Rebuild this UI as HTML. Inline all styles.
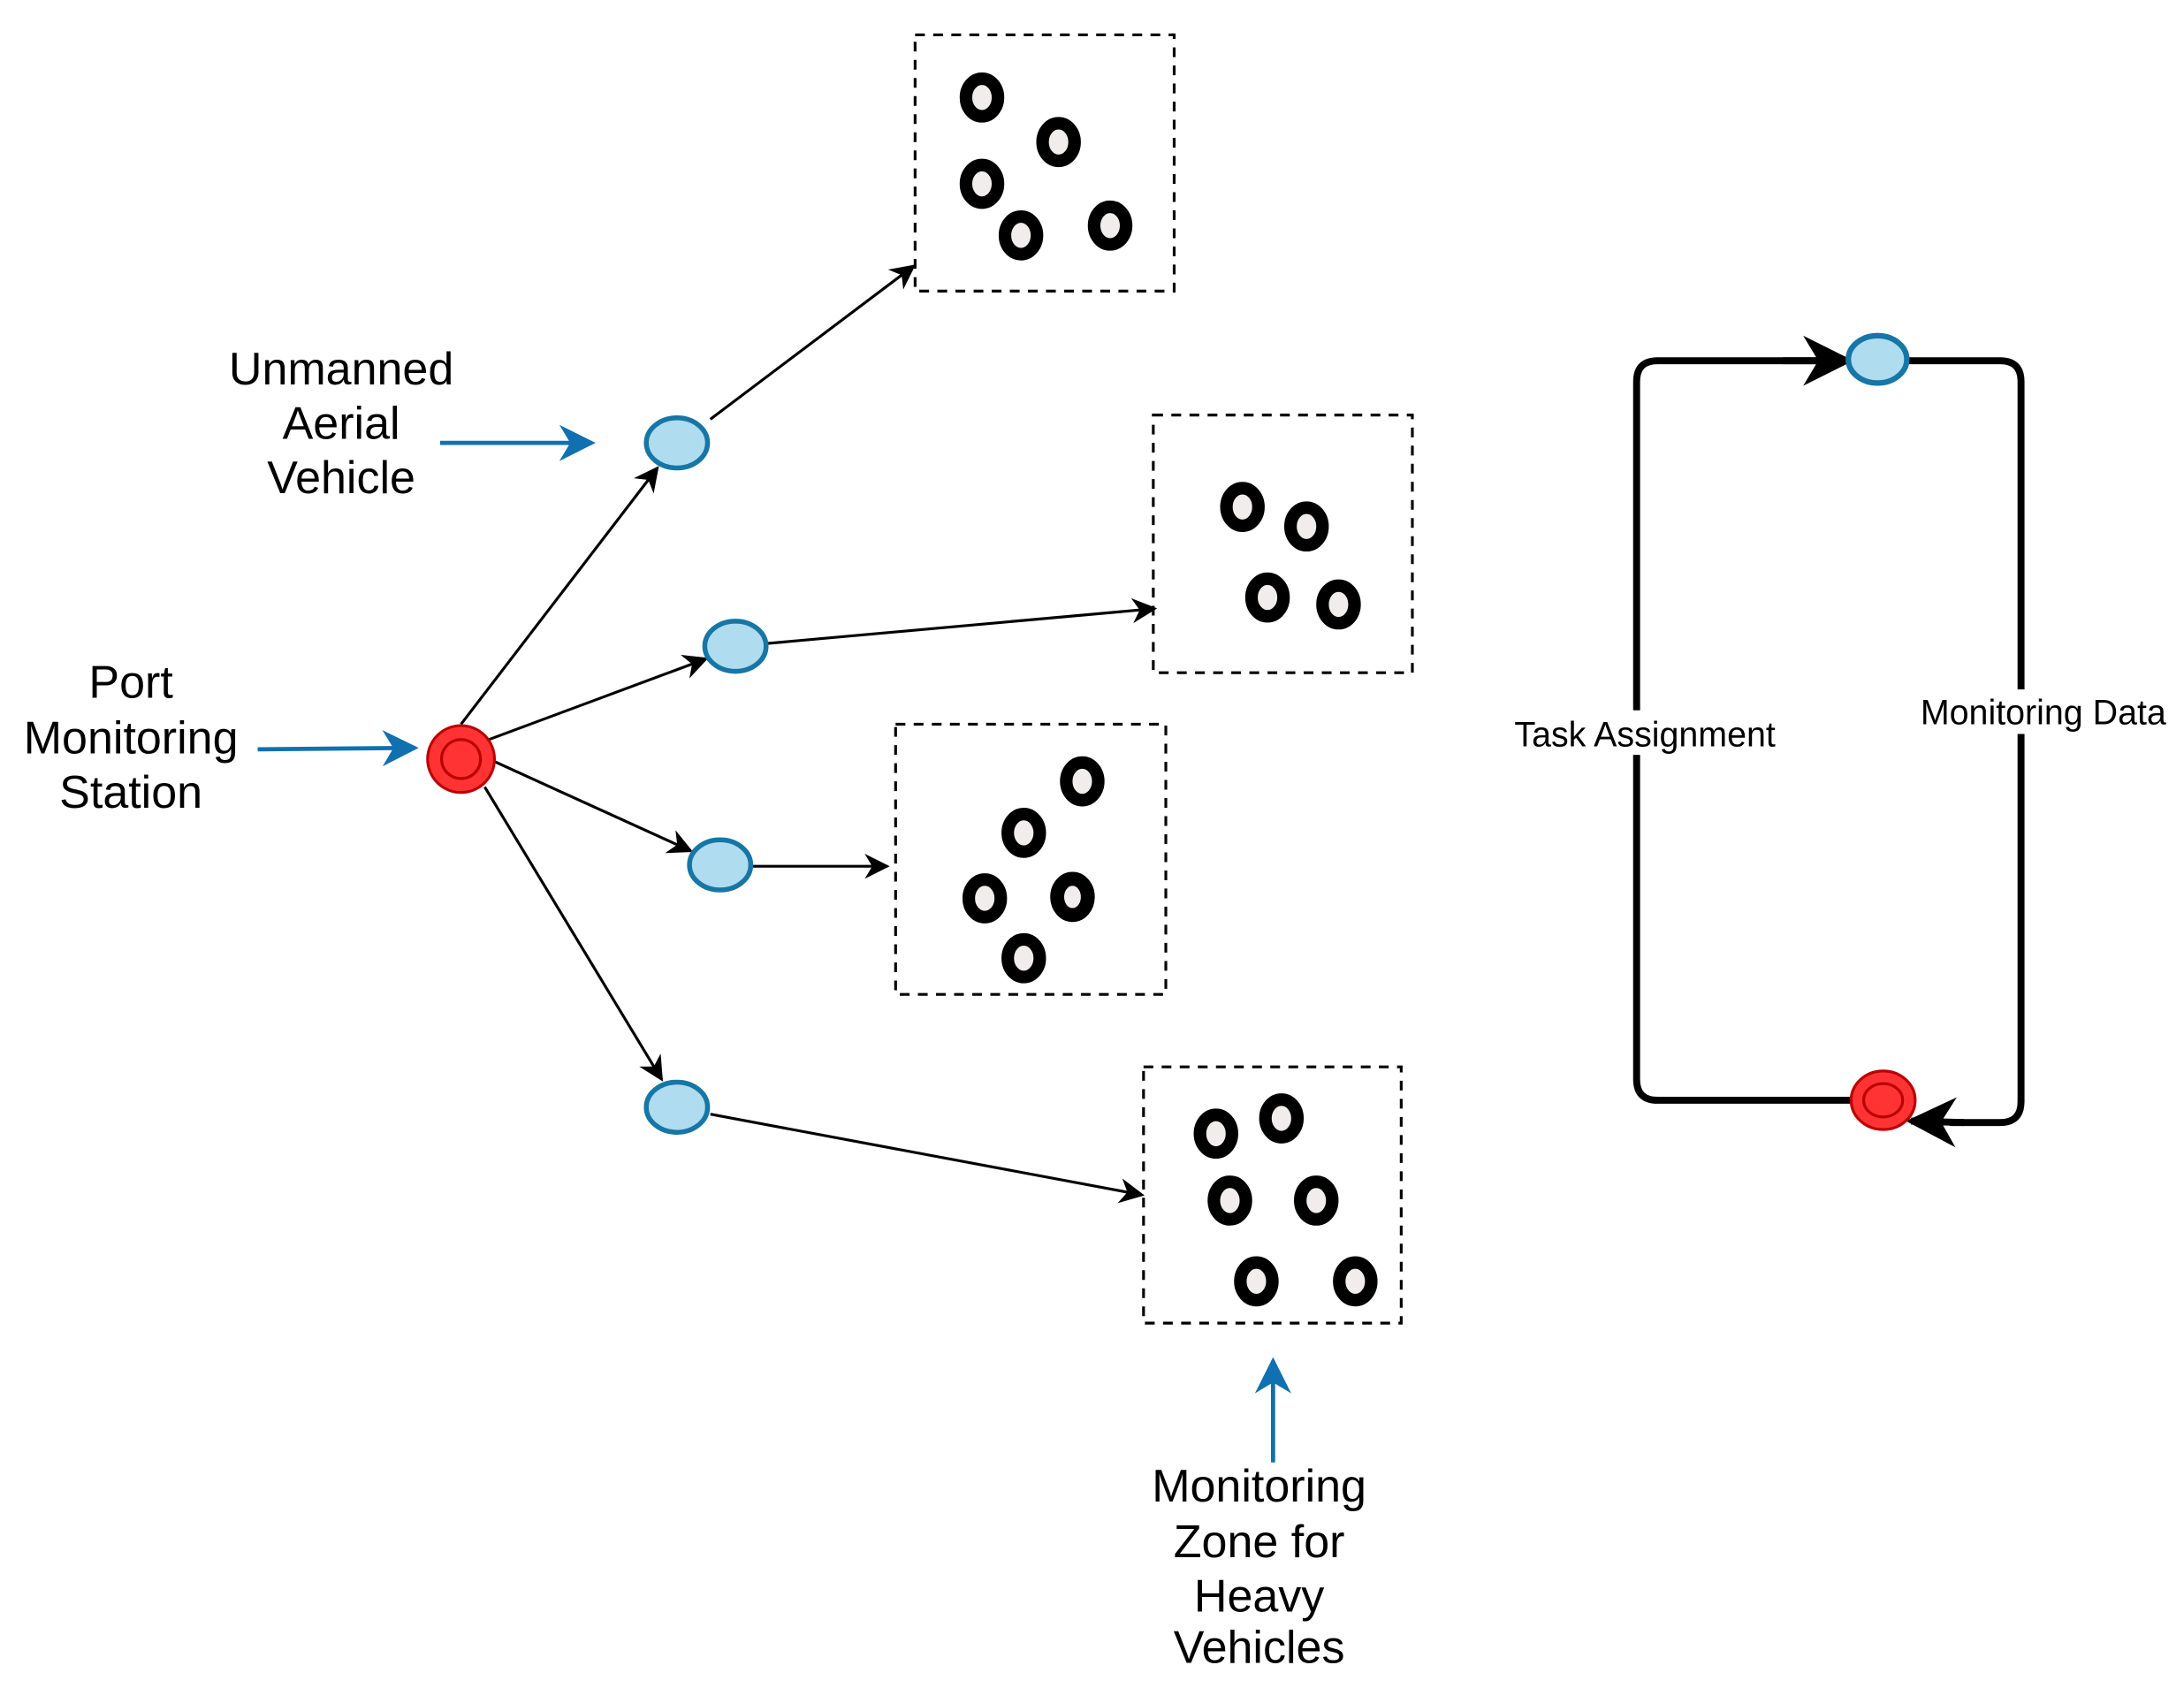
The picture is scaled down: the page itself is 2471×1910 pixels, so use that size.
<!DOCTYPE html>
<html><head><meta charset="utf-8"><style>html,body{margin:0;padding:0;background:#fff}svg{display:block}</style></head>
<body>
<svg width="2471" height="1910" viewBox="0 0 1568 1212" preserveAspectRatio="none" xmlns="http://www.w3.org/2000/svg" font-family="Liberation Sans, sans-serif">
<defs>
<marker id="a" viewBox="0 0 10 10" refX="9" refY="5" markerWidth="18" markerHeight="18" markerUnits="userSpaceOnUse" orient="auto"><path d="M0,0 L10,5 L0,10 L3,5 z" fill="#000"/></marker>
<marker id="b" viewBox="0 0 10 10" refX="9" refY="5" markerWidth="26" markerHeight="26" markerUnits="userSpaceOnUse" orient="auto"><path d="M0,0 L10,5 L0,10 L3,5 z" fill="#1070b0"/></marker>
<marker id="c" viewBox="0 0 10 10" refX="9" refY="5" markerWidth="36" markerHeight="36" markerUnits="userSpaceOnUse" orient="auto"><path d="M0,0 L10,5 L0,10 L3,5 z" fill="#000"/></marker>
<g id="r"><ellipse rx="11.5" ry="13.5" fill="#f2eded" stroke="#000" stroke-width="9"/></g>
</defs>
<g fill="none" stroke="#000" stroke-width="2" stroke-dasharray="7,6">
<rect x="657" y="25" width="186" height="184"/>
<rect x="828" y="298" width="186" height="185"/>
<rect x="643" y="520" width="194" height="194"/>
<rect x="821" y="766" width="185" height="184"/>
</g>
<use href="#r" x="705" y="70"/><use href="#r" x="760" y="102"/><use href="#r" x="705" y="132"/><use href="#r" x="733" y="169"/><use href="#r" x="797" y="162"/>
<use href="#r" x="892" y="364"/><use href="#r" x="938" y="378"/><use href="#r" x="910" y="429"/><use href="#r" x="961" y="434"/>
<use href="#r" x="777" y="561"/><use href="#r" x="735" y="598"/><use href="#r" x="707" y="645"/><use href="#r" x="770" y="644"/><use href="#r" x="735" y="688"/>
<ellipse cx="770" cy="644" rx="7" ry="9" fill="none" stroke="#000" stroke-width="2"/>
<use href="#r" x="873" y="814"/><use href="#r" x="920" y="803"/><use href="#r" x="883" y="862"/><use href="#r" x="945" y="862"/><use href="#r" x="902" y="920"/><use href="#r" x="973" y="920"/>
<g stroke="#000" stroke-width="2" marker-end="url(#a)">
<line x1="331" y1="520" x2="472" y2="336"/>
<line x1="351" y1="531" x2="507" y2="473"/>
<line x1="351" y1="545" x2="496" y2="611"/>
<line x1="348" y1="565" x2="475" y2="775"/>
<line x1="510" y1="301" x2="656" y2="191"/>
<line x1="551" y1="462" x2="829" y2="437"/>
<line x1="540" y1="622" x2="637" y2="622"/>
<line x1="510" y1="800" x2="820" y2="858"/>
</g>
<g stroke="#1070b0" stroke-width="3" marker-end="url(#b)">
<line x1="316" y1="318" x2="425" y2="318"/>
<line x1="185" y1="538" x2="298" y2="537"/>
<line x1="914" y1="1050" x2="914" y2="977"/>
</g>
<g fill="#b0dcef" stroke="#1676a6" stroke-width="3.5">
<ellipse cx="486" cy="318" rx="22" ry="18"/><ellipse cx="528" cy="464" rx="22" ry="18"/><ellipse cx="517" cy="621" rx="22" ry="18"/><ellipse cx="486" cy="795" rx="22" ry="18"/>
</g>
<circle cx="331" cy="545" r="24" fill="#ff3333" stroke="#bb0000" stroke-width="2"/>
<circle cx="331" cy="545" r="14" fill="#ff3333" stroke="#bb0000" stroke-width="2"/>
<path d="M1327,259 L1190,259 Q1175,259 1175,274 L1175,775 Q1175,790 1190,790 L1330,790" fill="none" stroke="#000" stroke-width="5"/>
<line x1="1280" y1="259" x2="1327" y2="259" stroke="#000" stroke-width="5" marker-end="url(#c)"/>
<path d="M1370,259 L1436,259 Q1451,259 1451,274 L1451,791 Q1451,806 1436,806 L1400,806" fill="none" stroke="#000" stroke-width="5"/>
<line x1="1410" y1="806" x2="1372" y2="805" stroke="#000" stroke-width="5" marker-end="url(#c)"/>
<ellipse cx="1348" cy="258" rx="21" ry="17" fill="#b0dcef" stroke="#1676a6" stroke-width="4"/>
<ellipse cx="1352" cy="790" rx="23" ry="21" fill="#ff3333" stroke="#bb0000" stroke-width="2"/>
<ellipse cx="1352" cy="790" rx="14" ry="12" fill="#ff3333" stroke="#bb0000" stroke-width="2"/>
<rect x="1082" y="510" width="200" height="32" fill="#fff"/>
<rect x="1374" y="495" width="190" height="32" fill="#fff"/>
<g font-size="25" fill="#000" text-anchor="middle">
<text x="1181" y="536">Task Assignment</text>
<text x="1467" y="520">Monitoring Data</text>
</g>
<g font-size="33" fill="#000" text-anchor="middle">
<text x="245" y="276">Unmanned</text><text x="245" y="315">Aerial</text><text x="245" y="354">Vehicle</text>
<text x="94" y="501">Port</text><text x="94" y="541">Monitoring</text><text x="94" y="580">Station</text>
<text x="904" y="1078">Monitoring</text><text x="904" y="1118">Zone for</text><text x="904" y="1157">Heavy</text><text x="904" y="1194">Vehicles</text>
</g>
</svg>
</body></html>
